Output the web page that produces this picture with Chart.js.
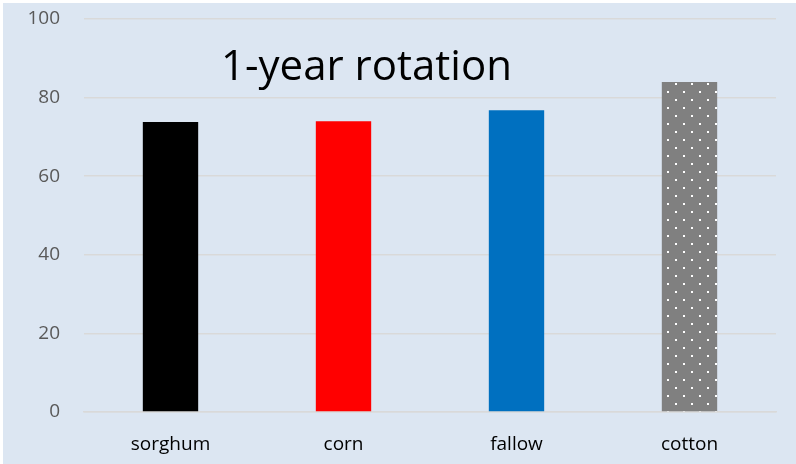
<!DOCTYPE html>
<html>
<head>
<meta charset="utf-8">
<script src="https://cdn.jsdelivr.net/npm/chart.js@4/dist/chart.umd.min.js"></script>
<style>
  html, body { margin: 0; padding: 0; background: #ffffff; }
  #wrap { position: absolute; left: 3px; top: 3px; width: 793px; height: 461px; }
</style>
</head>
<body>
<div id="wrap"><canvas id="myChart"></canvas></div>
<script>
// data
const crops = ['sorghum', 'corn', 'fallow', 'cotton'];
const values = [73.8, 74.0, 76.8, 84.0];
const yTicks = [0, 20, 40, 60, 80, 100];
const chartTitle = '1-year rotation';

// dotted fill for cotton
function dotPattern() {
    var c = document.createElement('canvas');
    c.width = 16; c.height = 16;
    var g = c.getContext('2d');
    g.fillStyle = '#808080';
    g.fillRect(0, 0, 16, 16);
    g.fillStyle = '#ffffff';
    g.fillRect(0, 0, 2, 2);
    g.fillRect(8, 8, 2, 2);
    return g.createPattern(c, 'repeat');
}

const bgPlugin = {
    id: 'bg',
    beforeDraw: (chart) => {
        const ctx = chart.ctx;
        ctx.save();
        ctx.fillStyle = '#dce6f2';
        ctx.fillRect(0, 0, chart.width, chart.height);
        ctx.restore();
    }
};

const titlePlugin = {
    id: 'innerTitle',
    afterDatasetsDraw: (chart) => {
        const ctx = chart.ctx;
        ctx.save();
        ctx.font = '42px "Open Sans"';
        ctx.fillStyle = '#000000';
        ctx.textBaseline = 'alphabetic';
        ctx.fillText(chartTitle, 218, 77);
        ctx.restore();
    }
};

var ctx = document.getElementById('myChart');

var myChart = new Chart(ctx, {
    type: 'bar',
    data: {
        labels: crops,
        datasets: [{
            data: values,
            backgroundColor: ['#000000', '#ff0000', '#0070c0', dotPattern()],
            borderWidth: 0,
            categoryPercentage: 1,
            barPercentage: 0.32
        }]
    },
    options: {
        responsive: true,
        maintainAspectRatio: false,
        animation: false,
        layout: { padding: { top: 16, right: 20, left: 0, bottom: 0 } },
        plugins: {
            legend: { display: false },
            tooltip: { enabled: false }
        },
        scales: {
            x: {
                grid: { display: false },
                border: { display: true, color: '#d9d9d9', width: 1.5 },
                ticks: { color: '#000000', font: { family: 'Open Sans', size: 19 }, padding: 13 },
                afterFit: (s) => { s.height = 52; s.paddingLeft = 0; s.paddingRight = 0; }
            },
            y: {
                min: 0,
                max: 100,
                afterBuildTicks: (s) => { s.ticks = yTicks.map(v => ({ value: v })); },
                grid: { color: '#d9d9d9', lineWidth: 1.5, drawTicks: false },
                border: { display: false },
                ticks: { color: '#595959', font: { family: 'Open Sans', size: 19 }, padding: 24 },
                afterFit: (s) => { s.width = 81; s.paddingTop = 0; s.paddingBottom = 0; }
            }
        }
    },
    plugins: [bgPlugin, titlePlugin]
});
</script>
</body>
</html>
